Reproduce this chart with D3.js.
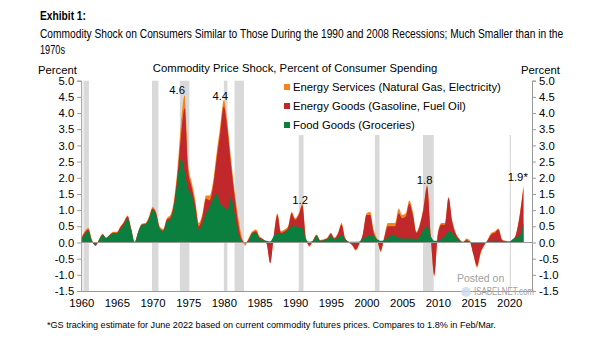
<!DOCTYPE html>
<html>
<head>
<meta charset="utf-8">
<script src="https://cdn.jsdelivr.net/npm/d3@7"></script>
<style>
  body { margin: 0; background: #fff; }
  text { font-family: "Liberation Sans", Arial, sans-serif; }
</style>
</head>
<body>
<div id="chart"></div>
<script>
// half-year observations, 1960.0 ... 2022.0
const years = d3.range(1960, 2022.25, 0.5);

// contributions in percent of consumer spending
const food = [
  .08, .25, .35, .05, -.08, .08, .24, .13, .22, .28,
  .28, .40, .55, .75, .40, .0, .32, .55, .56, .72,
  1.0, .85, .42, .35, .65, .72, 1.1, 1.9, 2.6, 2.2,
  1.65, 1.45, .95, .4, .6, .9, 1.1, 1.35, 1.5, 1.2,
  1.1, 1.0, 1.4, .9, .3, .05, .0, .05, .3, .3,
  .12, .08, .05, .03, .2, .3, .25, .3, .4, .5,
  .5, .48, .45, .1, .02, .05, .2, .05, .07, .1,
  .2, .1, .15, .25, .1, .02, .02, .02, .03, .12,
  .18, .22, .2, .1, .05, .08, .15, .25, .2, .15,
  .12, .12, .12, .12, .1, .2, .4, .5, .2, .05,
  .05, .1, .2, .35, .3, .15, .08, .02, .05, .03,
  -.05, -.05, -.05, -.02, .02, .05, .05, .05, .03, .03,
  .02, .1, .15, .22, .6
];
const energyGoods = [
  .04, .05, .05, 0, -.02, 0, .01, .01, .01, .02,
  .02, .07, .07, .05, .02, 0, 0, 0, .01, .03,
  .05, .05, .03, .02, .05, .06, .1, .2, .7, 1.95,
  .55, .25, .2, .1, .2, .45, .2, .4, 1.1, 2.2,
  3.1, 2.5, 1.0, .55, .3, .05, 0, .05, 0, .05,
  .03, .02, -.1, -.68, 0, .55, .05, .05, .05, .4,
  .2, .37, .7, .02, -.12, .01, .02, .01, .01, .02,
  .07, .02, .12, .3, .02, 0, -.1, -.24, -.06, .13,
  .67, .63, .1, -.05, -.3, .07, .35, .25, .3, .75,
  .63, .68, 1.08, .73, .2, .35, .65, 1.22, 0, -1.05,
  .2, .45, .35, 1.03, .35, .13, .02, -.02, .03, -.03,
  -.33, -.67, -.25, -.06, .06, .2, .25, .35, .05, 0,
  0, -.05, .13, .63, 1.1
];
const energyServices = [
  .03, .05, .05, .05, 0, .02, .02, .01, .02, .03,
  .03, .03, .03, .03, .03, .02, .03, .03, .03, .05,
  .05, .05, .05, .05, .05, .07, .1, .2, .4, .4,
  .2, .15, .15, .1, .1, .1, .15, .15, .2, .2,
  .2, .2, .2, .15, .2, .1, -.1, .05, .05, .05,
  .05, 0, .05, .05, 0, .05, .05, .05, .05, .05,
  .05, .05, .05, .03, -.03, .02, .03, .02, .02, .03,
  .03, .03, .03, .05, .03, -.02, -.02, -.03, -.02, .05,
  .05, .1, .1, .05, -.05, .05, .1, .1, .1, .15,
  .1, .1, .1, .1, .03, .05, .05, .06, 0, -.05,
  .05, .05, .05, .02, .05, .02, .02, 0, .04, .05,
  -.02, -.06, -.05, -.02, .02, .05, .05, .03, .02, .02,
  .01, .05, .02, .05, .08
];

// NBER recessions (start, end)
const recessions = [
  [1960.33, 1961.08], [1969.92, 1970.83], [1973.83, 1975.17], [1980.0, 1980.5],
  [1981.5, 1982.83], [1990.5, 1991.17], [2001.17, 2001.83], [2007.92, 2009.42],
  [2020.08, 2020.25]
];

const seriesNames = ["Energy Services (Natural Gas, Electricity)", "Energy Goods (Gasoline, Fuel Oil)", "Food Goods (Groceries)"];
const seriesColors = ["#f5841f", "#c0282b", "#0b7f3d"];

const peakYears = [1973.45, 1979.5, 1990.7, 2008.15, 2021.2];
const peakValues = [4.6, 4.4, 1.2, 1.8, 1.9];
const peakLabels = ["4.6", "4.4", "1.2", "1.8", "1.9*"];

const yTicks = d3.range(-1.5, 5.01, 0.5);
const xTicks = d3.range(1960, 2021, 5);

const width = 605, height = 341;
const svg = d3.select("#chart").append("svg").attr("width", width).attr("height", height);

const x = d3.scaleLinear().domain([1960, 2023.2]).range([81.2, 532]);
const y = d3.scaleLinear().domain([-1.5, 5]).range([291, 80.7]);

// text squeezed horizontally to a given width (condensed look)
function squeezed(px, py, w, size, txt, bold, color) {
  const t = svg.append("text").style("font-size", size).text(txt);
  if (bold) t.style("font-weight", "bold");
  if (color) t.attr("fill", color);
  const natural = t.node().getComputedTextLength();
  t.attr("transform", "translate(" + px + "," + py + ") scale(" + (w / natural) + ",1)");
  return t;
}

// titles
squeezed(40, 20, 46, "12.5px", "Exhibit 1:", true);
squeezed(40, 38, 524, "12px", "Commodity Shock on Consumers Similar to Those During the 1990 and 2008 Recessions; Much Smaller than in the");
squeezed(40, 54, 25, "12px", "1970s");

svg.append("text").attr("x", 295).attr("y", 72).attr("text-anchor", "middle")
  .style("font-size", "11.3px").text("Commodity Price Shock, Percent of Consumer Spending");
svg.append("text").attr("x", 38).attr("y", 74).style("font-size", "11.3px").text("Percent");
svg.append("text").attr("x", 521).attr("y", 74).style("font-size", "11.3px").text("Percent");

// recession shading
svg.append("g").selectAll("rect").data(recessions).join("rect")
  .attr("x", d => x(d[0]))
  .attr("width", d => x(d[1]) - x(d[0]))
  .attr("y", y(5))
  .attr("height", y(-1.5) - y(5))
  .attr("fill", "#d9d9d9");

// cumulative levels, drawn from 0 like overlapping areas
const rows = years.map((yr, i) => ({
  year: yr,
  g: food[i],
  r: food[i] + energyGoods[i],
  t: food[i] + energyGoods[i] + energyServices[i]
}));
const keys = ["t", "r", "g"];
keys.forEach((k, i) => {
  const area = d3.area()
    .x(d => x(d.year))
    .y0(y(0))
    .y1(d => y(d[k]))
    .curve(d3.curveMonotoneX);
  svg.append("path").datum(rows).attr("d", area).attr("fill", seriesColors[i]);
});

// zero line
svg.append("line").attr("x1", x(1960)).attr("x2", x(2023.2))
  .attr("y1", y(0)).attr("y2", y(0)).attr("stroke", "#999").attr("stroke-width", 1);

// axes
const fmt = d => d.toFixed(1);
const yLeft = svg.append("g").attr("transform", "translate(" + x(1960) + ",0)")
  .call(d3.axisLeft(y).tickValues(yTicks).tickFormat(fmt).tickSize(4).tickPadding(3));
const yRight = svg.append("g").attr("transform", "translate(" + x(2023.2) + ",0)")
  .call(d3.axisRight(y).tickValues(yTicks).tickFormat(fmt).tickSize(4).tickPadding(3));
const xAxis = svg.append("g").attr("transform", "translate(0," + y(-1.5) + ")")
  .call(d3.axisBottom(x).tickValues(xTicks).tickFormat(d3.format("d")).tickSize(0).tickPadding(8));
[yLeft, yRight, xAxis].forEach(a => {
  a.select(".domain").attr("stroke", "#999");
  a.selectAll(".tick line").attr("stroke", "#999");
  a.selectAll("text").style("font-size", "11.3px").style("font-family", "'Liberation Sans', Arial, sans-serif").attr("fill", "#000");
});

// legend with white background over the shading
svg.append("rect").attr("x", 280).attr("y", 78).attr("width", 248).attr("height", 57).attr("fill", "#fff");
const legend = svg.append("g");
seriesNames.forEach((name, i) => {
  legend.append("rect").attr("x", 284).attr("y", 84 + i * 19).attr("width", 6).attr("height", 6).attr("fill", seriesColors[i]);
  legend.append("text").attr("x", 293).attr("y", 90.5 + i * 19).style("font-size", "11.3px").text(name);
});

// peak labels
svg.append("g").selectAll("text").data(peakLabels).join("text")
  .attr("x", (d, i) => x(peakYears[i]))
  .attr("y", (d, i) => y(peakValues[i]))
  .attr("text-anchor", "middle")
  .style("font-size", "11.3px")
  .text(d => d);

// watermark
svg.append("text").attr("x", 457).attr("y", 282).attr("fill", "#a0a0a0").style("font-size", "10.5px").text("Posted on");
svg.append("circle").attr("cx", 466).attr("cy", 292).attr("r", 5).attr("fill", "#c9dbe8").attr("opacity", 0.8);
squeezed(474, 295, 60, "10.5px", "ISABELNET.com", false, "#a0a0a0");

// footnote
svg.append("text").attr("x", 47).attr("y", 328).style("font-size", "9.1px")
  .text("*GS tracking estimate for June 2022 based on current commodity futures prices. Compares to 1.8% in Feb/Mar.");
</script>
</body>
</html>
